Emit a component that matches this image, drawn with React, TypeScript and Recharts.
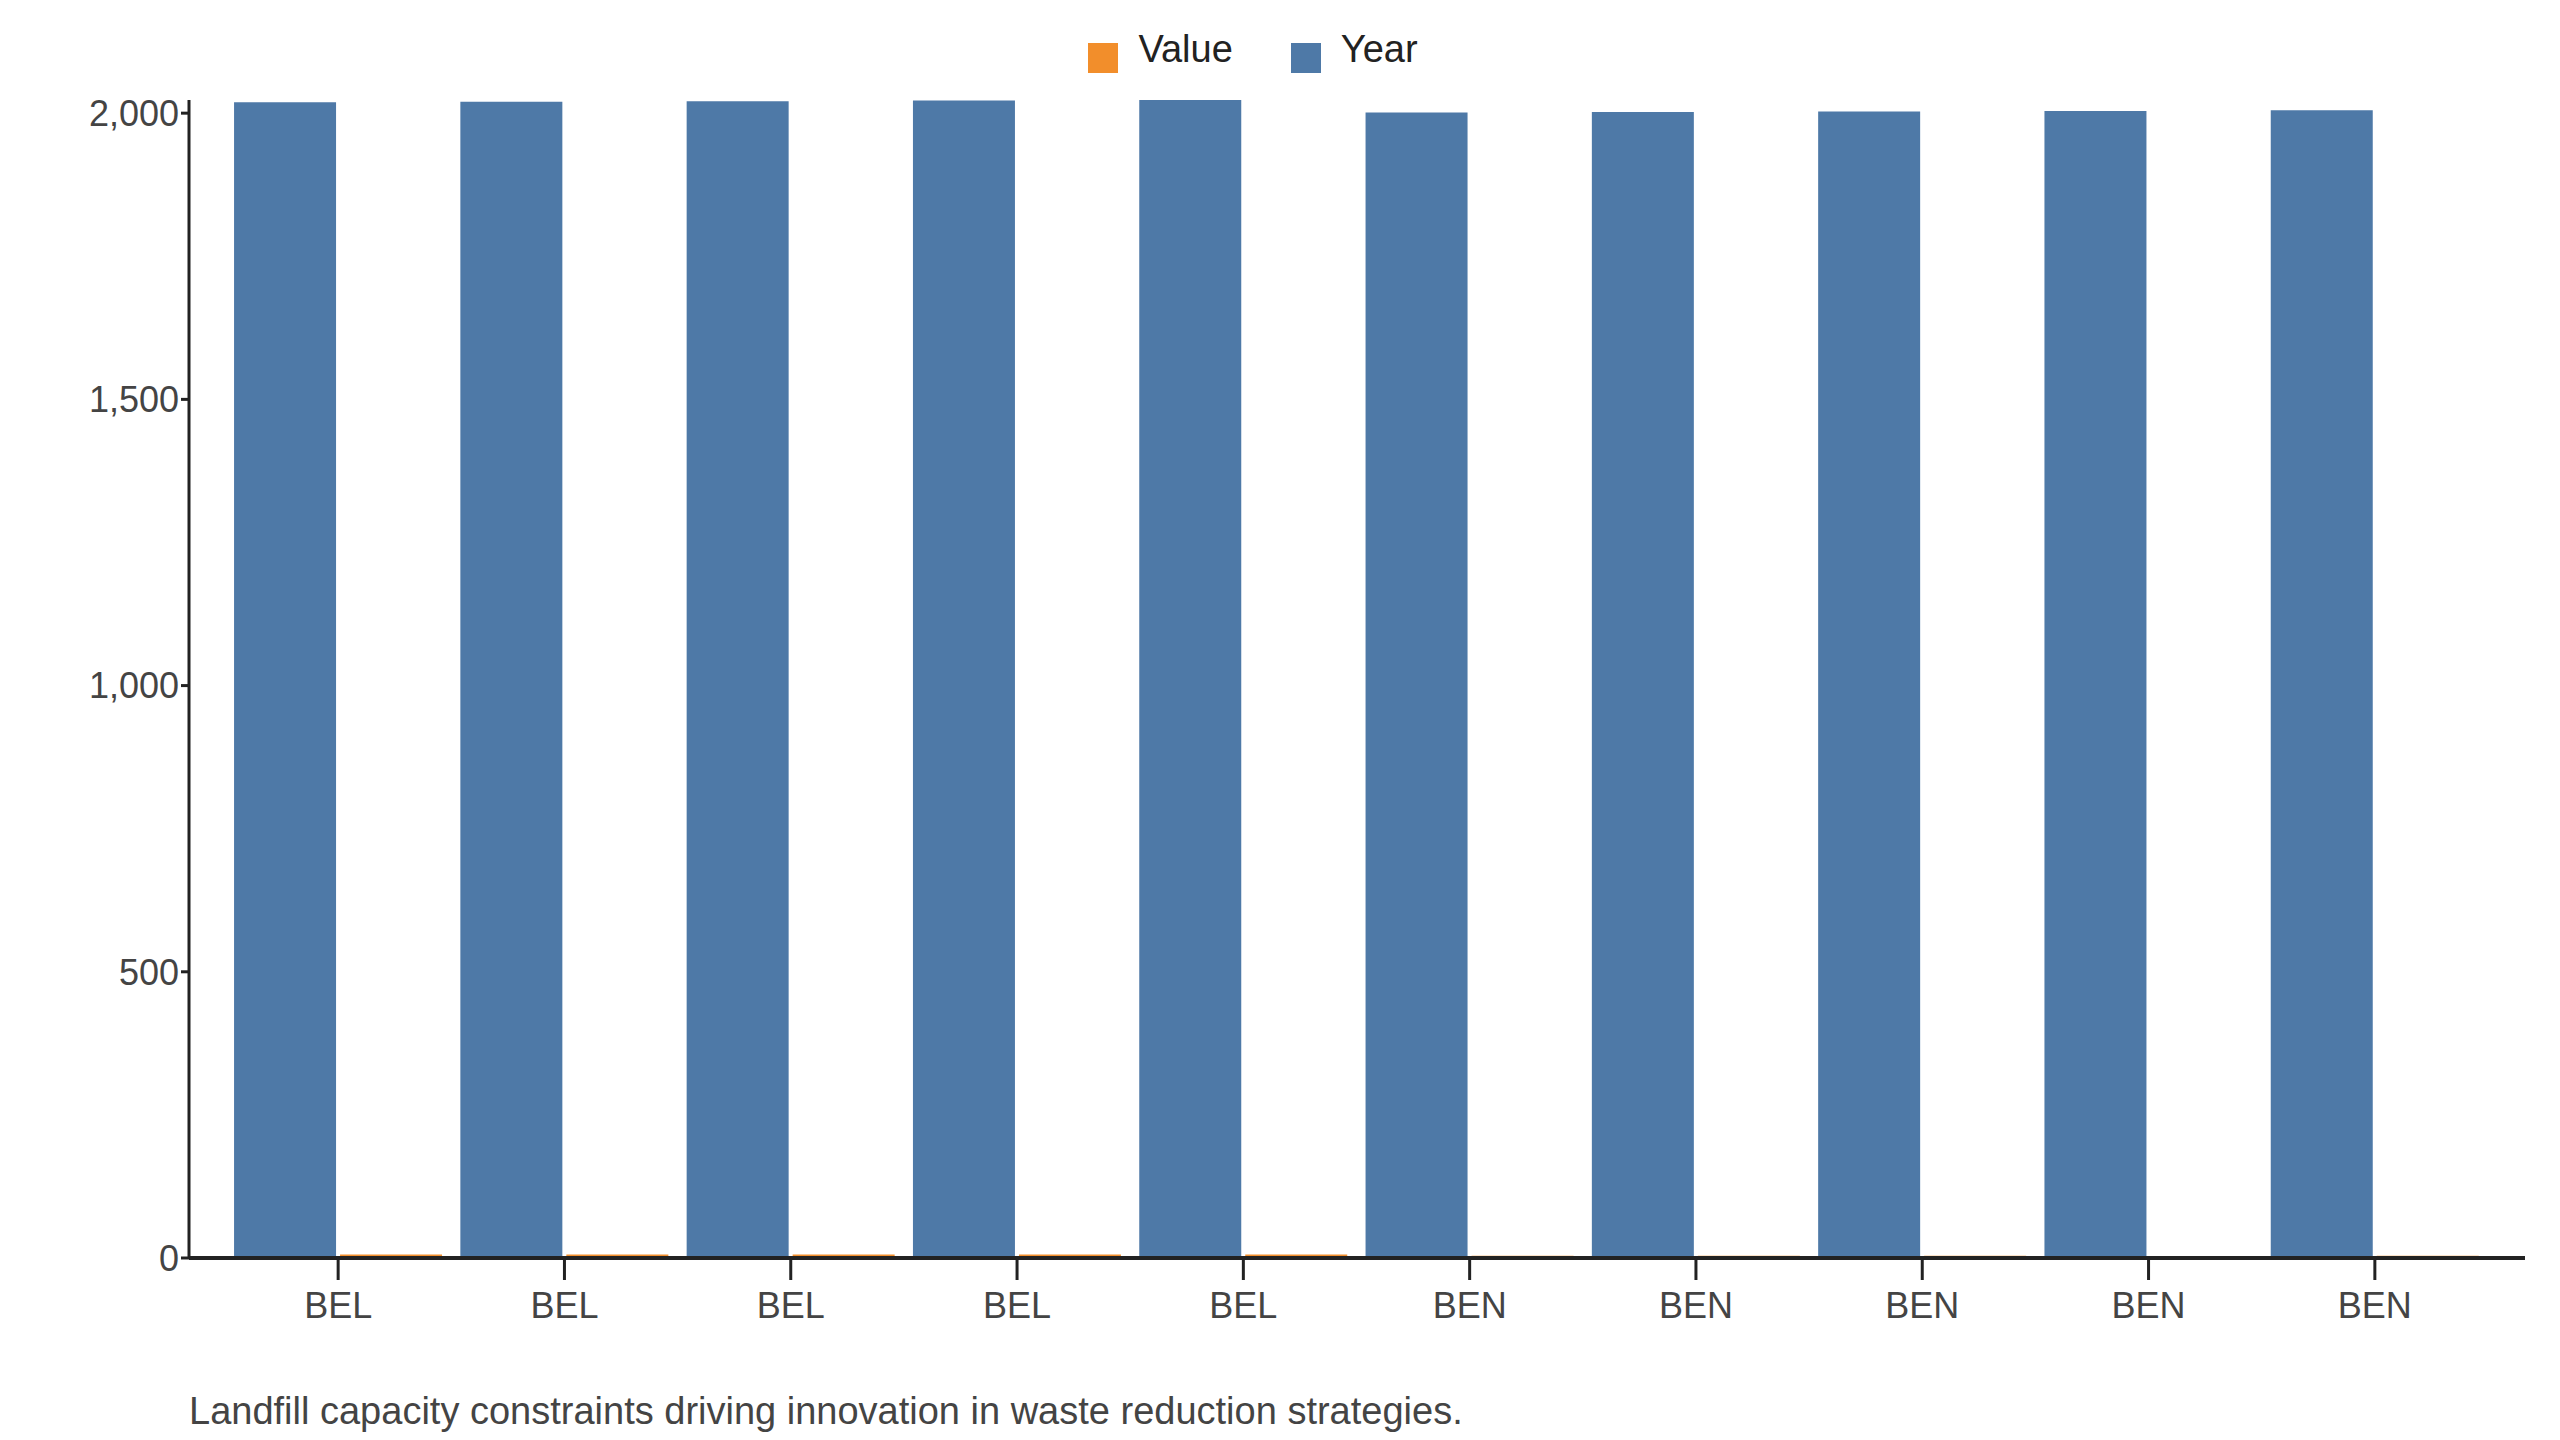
import React from "react";
import { BarChart, Bar, XAxis, YAxis, Legend } from "recharts";

const countries = ["BEL", "BEL", "BEL", "BEL", "BEL", "BEN", "BEN", "BEN", "BEN", "BEN"];
const years = [2019, 2020, 2021, 2022, 2023, 2001, 2002, 2003, 2004, 2005];
const values = [6, 6, 6, 6, 6, 4, 4, 4, 0, 4];
const yTicks = [0, 500, 1000, 1500, 2000];

const data = countries.map((c, i) => ({ name: c, Year: years[i], Value: values[i] }));
const font = "'Liberation Sans', Arial, sans-serif";

export default function App() {
  return (
    <div style={{ position: "relative", width: 2544, height: 1432, fontFamily: font }}>
      <BarChart
        width={2544}
        height={1432}
        data={data}
        margin={{ top: 20, right: 27, bottom: 120, left: 31 }}
        barCategoryGap="4%"
        barGap={4}
      >
        <Legend
          verticalAlign="top"
          align="center"
          height={72}
          iconType="square"
          iconSize={30}
          formatter={(v) => <span style={{ color: "#222", fontSize: 38, marginLeft: 16, marginRight: 48 }}>{v}</span>}
        />
        <XAxis
          dataKey="name"
          interval={0}
          padding={{ left: 36, right: 37 }}
          height={62}
          tickSize={22}
          tick={{ fontSize: 36, fill: "#444", fontFamily: font, dy: 10 }}
          axisLine={{ stroke: "#222", strokeWidth: 4 }}
          tickLine={{ stroke: "#222", strokeWidth: 3 }}
        />
        <YAxis
          width={150}
          domain={[0, "dataMax"]}
          ticks={yTicks}
          tickFormatter={(v) => v.toLocaleString("en-US")}
          tickSize={8}
          tick={{ fontSize: 36, fill: "#444", fontFamily: font }}
          axisLine={{ stroke: "#222", strokeWidth: 3 }}
          tickLine={{ stroke: "#222", strokeWidth: 3 }}
        />
        <Bar dataKey="Year" fill="#4e79a7" isAnimationActive={false} />
        <Bar dataKey="Value" fill="#f28e2b" isAnimationActive={false} />
      </BarChart>
      <div style={{ position: "absolute", left: 181, top: 1382, fontSize: 38, color: "#444" }}>
        Landfill capacity constraints driving innovation in waste reduction strategies.
      </div>
    </div>
  );
}
